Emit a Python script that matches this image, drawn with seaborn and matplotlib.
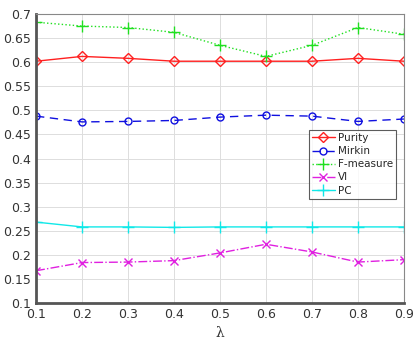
import matplotlib
matplotlib.use("Agg")
import matplotlib.pyplot as plt
import numpy as np
import pandas as pd
import seaborn as sns

lam = [0.1, 0.2, 0.3, 0.4, 0.5, 0.6, 0.7, 0.8, 0.9]
purity = [0.602, 0.612, 0.608, 0.602, 0.602, 0.602, 0.602, 0.608, 0.602]
mirkin = [0.488, 0.476, 0.477, 0.479, 0.486, 0.490, 0.488, 0.477, 0.482]
fmeasure = [0.683, 0.675, 0.672, 0.662, 0.635, 0.612, 0.635, 0.672, 0.658]
vi = [0.167, 0.184, 0.185, 0.188, 0.204, 0.222, 0.206, 0.185, 0.190]
pc = [0.268, 0.258, 0.258, 0.257, 0.258, 0.258, 0.258, 0.258, 0.258]

series = {
    'Purity': (purity, '#ff2020', '-', 'D', 5),
    'Mirkin': (mirkin, '#1010e0', (0, (6, 4)), 'o', 5),
    'F-measure': (fmeasure, '#20e020', ':', '+', 9),
    'VI': (vi, '#e020e0', '-.', 'x', 6),
    'PC': (pc, '#10e8e8', '-', '+', 9),
}

sns.set_style("white")
fig = plt.figure(figsize=(4.19, 3.42), dpi=100)
ax = fig.add_axes([0.086, 0.114, 0.878, 0.845])

for name, (vals, col, ls, mk, ms) in series.items():
    df = pd.DataFrame({'lam': lam, 'val': vals})
    sns.lineplot(data=df, x='lam', y='val', ax=ax, color=col, linestyle=ls,
                 marker=mk, markersize=ms, markerfacecolor='none' if mk in 'Do' else col,
                 markeredgecolor=col, markeredgewidth=1.0, linewidth=1.0, label=name)

ax.set_xlim(0.1, 0.9)
ax.set_ylim(0.1, 0.7)
ax.set_xticks(np.arange(0.1, 0.91, 0.1))
ax.set_xticklabels(['0.1', '0.2', '0.3', '0.4', '0.5', '0.6', '0.7', '0.8', '0.9'])
ax.set_yticks(np.arange(0.1, 0.701, 0.05))
ax.set_yticklabels(['0.1', '0.15', '0.2', '0.25', '0.3', '0.35', '0.4', '0.45', '0.5',
                    '0.55', '0.6', '0.65', '0.7'])
ax.tick_params(labelsize=9, colors='#333333', length=3, direction='in')
ax.grid(True, color='#dddddd', linewidth=0.7)
for s in ax.spines.values():
    s.set_color('#888888')
    s.set_linewidth(0.8)
ax.spines['left'].set_color('#555555')
ax.spines['left'].set_linewidth(2)
ax.spines['bottom'].set_color('#555555')
ax.spines['bottom'].set_linewidth(2)

ax.set_xlabel('λ', fontsize=10, color='#333333', family='DejaVu Serif')
ax.set_ylabel('')

leg = ax.legend(loc='center right', bbox_to_anchor=(0.993, 0.48), fontsize=7.5,
                frameon=True, fancybox=False, handlelength=2.2, handletextpad=0.3,
                borderpad=0.3, labelspacing=0.3)
leg.get_frame().set_edgecolor('#333333')
leg.get_frame().set_linewidth(0.8)

fig.savefig('out.png', dpi=100)
